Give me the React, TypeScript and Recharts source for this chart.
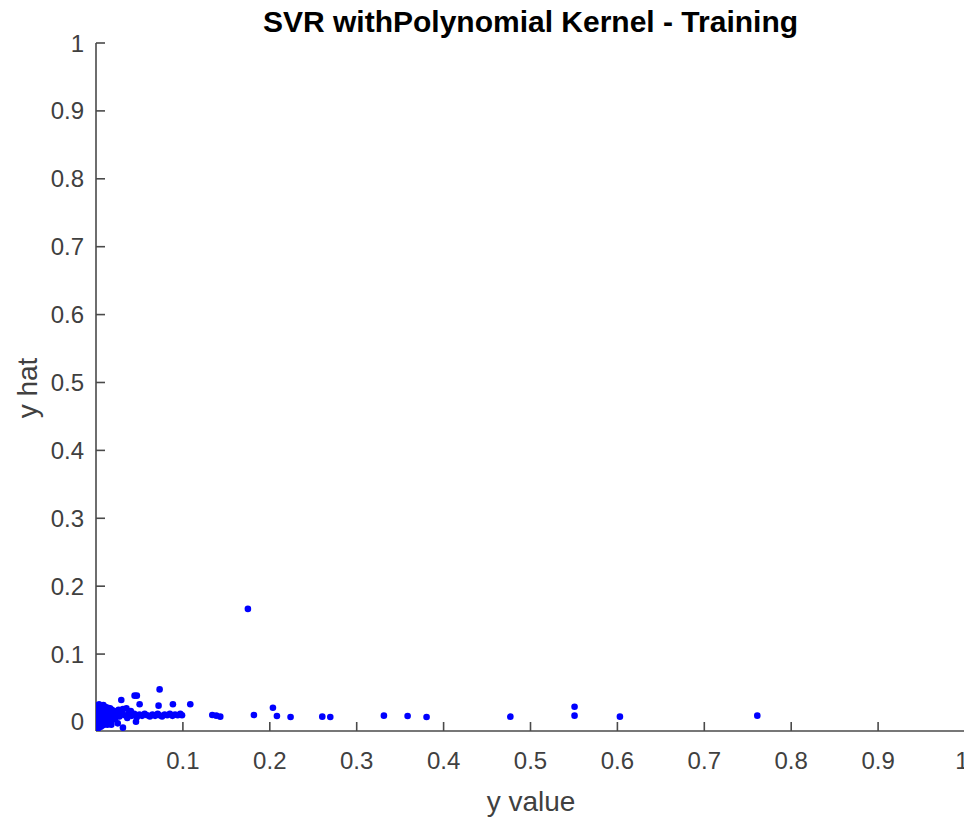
import React from 'react';
import { ScatterChart, Scatter, XAxis, YAxis } from 'recharts';

// Points near the origin (x ~ 0 .. 0.02)
const nearZeroPoints: [number, number][] = [
  [0.0008, -0.011], [0.0010, -0.006], [0.0012, -0.001], [0.0010, 0.004], [0.0009, 0.009], [0.0011, 0.014], [0.0010, 0.019], [0.0012, 0.024],
  [0.0030, -0.009], [0.0032, -0.004], [0.0028, 0.001], [0.0031, 0.006], [0.0029, 0.011], [0.0033, 0.016], [0.0030, 0.021], [0.0034, 0.026],
  [0.0055, -0.007], [0.0052, -0.002], [0.0058, 0.003], [0.0054, 0.008], [0.0057, 0.013], [0.0053, 0.018], [0.0056, 0.023],
  [0.0080, -0.005], [0.0078, 0.000], [0.0083, 0.005], [0.0079, 0.010], [0.0082, 0.015], [0.0080, 0.020], [0.0085, 0.025],
  [0.0105, -0.003], [0.0108, 0.002], [0.0103, 0.007], [0.0107, 0.012], [0.0104, 0.017], [0.0110, 0.022],
  [0.0130, -0.004], [0.0133, 0.001], [0.0128, 0.006], [0.0135, 0.011], [0.0131, 0.016], [0.0136, 0.021],
  [0.0155, 0.000], [0.0158, 0.005], [0.0160, 0.010], [0.0157, 0.015], [0.0162, 0.020],
  [0.0176, -0.004], [0.0180, 0.002], [0.0183, 0.008], [0.0186, 0.013], [0.0182, 0.018],
  [0.0205, 0.006], [0.0210, 0.011], [0.0208, 0.016],
];

// Horizontal band of points (x ~ 0.02 .. 0.1)
const bandPoints: [number, number][] = [
  [0.024, 0.012], [0.027, 0.008], [0.030, 0.014], [0.033, 0.010], [0.036, 0.006], [0.038, 0.013],
  [0.041, 0.009], [0.044, 0.012], [0.047, 0.007], [0.050, 0.011], [0.053, 0.009], [0.056, 0.012],
  [0.059, 0.010], [0.062, 0.008], [0.065, 0.011], [0.068, 0.009], [0.071, 0.012], [0.073, 0.010],
  [0.076, 0.008], [0.079, 0.011], [0.082, 0.010], [0.085, 0.012], [0.088, 0.009], [0.091, 0.011],
  [0.094, 0.010], [0.097, 0.012], [0.099, 0.010],
  [0.026, 0.018], [0.031, 0.019], [0.046, 0.0004], [0.035, 0.020], [0.040, 0.016], [0.022, 0.004],
  [0.025, -0.002],
];

// Scattered points above the band
const sparsePoints: [number, number][] = [
  [0.0291, 0.0324], [0.0444, 0.0388], [0.0470, 0.0388], [0.0732, 0.048], [0.0502, 0.026],
  [0.0720, 0.024], [0.0885, 0.026], [0.1085, 0.026], [0.0310, -0.0084],
];

// Outliers further along the x axis
const outlierPoints: [number, number][] = [
  [0.1338, 0.0103], [0.1384, 0.0093], [0.1430, 0.0078], [0.1748, 0.1665], [0.1817, 0.0103],
  [0.2036, 0.021], [0.2082, 0.0088], [0.2239, 0.0074], [0.2604, 0.0078], [0.2696, 0.0074],
  [0.3313, 0.0093], [0.3586, 0.0088], [0.3804, 0.0074], [0.4768, 0.0078], [0.5507, 0.0225],
  [0.5507, 0.0093], [0.6029, 0.0078], [0.7610, 0.0093],
];

const xTicks = [0.1, 0.2, 0.3, 0.4, 0.5, 0.6, 0.7, 0.8, 0.9, 1];
const yTicks = [0, 0.1, 0.2, 0.3, 0.4, 0.5, 0.6, 0.7, 0.8, 0.9, 1];

const titleText = 'SVR withPolynomial Kernel - Training';
const xLabelText = 'y value';
const yLabelText = 'y hat';

const data = [...nearZeroPoints, ...bandPoints, ...sparsePoints, ...outlierPoints].map(([x, y]) => ({ x, y }));

const FONT = '"Liberation Sans", Arial, Helvetica, sans-serif';
const AXIS_COLOR = '#4a4a4a';
const TEXT_COLOR = '#404040';

const Dot = (props: any) => <circle cx={props.cx} cy={props.cy} r={3.3} fill="#0000ff" />;

const XTick = (props: any) => {
  const { x, y, payload } = props;
  const v = payload.value;
  const shift = v === 1 ? -3 : 0;
  return (
    <text
      x={x + shift}
      y={y}
      dy="0.71em"
      textAnchor="middle"
      fontFamily={FONT}
      fontSize={24}
      fill={TEXT_COLOR}
    >
      {String(v)}
    </text>
  );
};

const W = 964;
const H = 809;

export default function App() {
  return (
    <div style={{ position: 'relative', width: W, height: H }}>
      <ScatterChart
        width={W}
        height={H}
        margin={{ top: 35, right: 7, bottom: 0, left: 0 }}
        style={{ overflow: 'visible' }}
      >
        <XAxis
          type="number"
          dataKey="x"
          domain={[0, 1]}
          ticks={xTicks}
          interval={0}
          height={86}
          tickSize={-9}
          tickMargin={30}
          stroke={AXIS_COLOR}
          strokeWidth={1.6}
          tick={XTick}
          allowDataOverflow
        />
        <YAxis
          type="number"
          dataKey="y"
          domain={[-0.0133, 1]}
          ticks={yTicks}
          interval={0}
          width={88}
          tickSize={-9}
          tickMargin={21}
          stroke={AXIS_COLOR}
          strokeWidth={1.6}
          tick={{ fill: TEXT_COLOR, fontSize: 24, fontFamily: FONT }}
          allowDataOverflow
        />
        <Scatter data={data} fill="#0000ff" shape={Dot} isAnimationActive={false} />
      </ScatterChart>
      <svg
        width={972}
        height={817}
        style={{ position: 'absolute', left: -8, top: -8, pointerEvents: 'none', overflow: 'visible' }}
      >
        <text x={530.5} y={32} textAnchor="middle" fontFamily={FONT} fontWeight="bold" fontSize={30} fill="#000">
          {titleText}
        </text>
        <text x={531} y={811} textAnchor="middle" fontFamily={FONT} fontSize={28} fill={TEXT_COLOR}>
          {xLabelText}
        </text>
        <text
          x={0}
          y={0}
          transform="translate(37,388) rotate(-90)"
          textAnchor="middle"
          fontFamily={FONT}
          fontSize={28}
          fill={TEXT_COLOR}
        >
          {yLabelText}
        </text>
      </svg>
    </div>
  );
}
